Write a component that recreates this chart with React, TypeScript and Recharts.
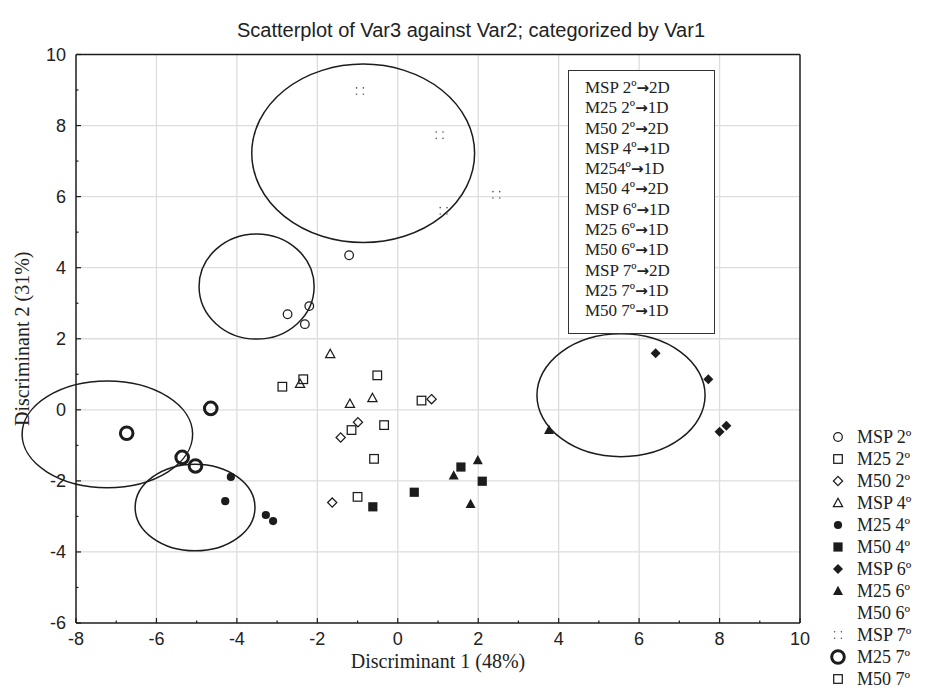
import React from 'react';
import * as Recharts from 'recharts';
import { ScatterChart, Scatter, XAxis, YAxis, ReferenceLine, Legend } from 'recharts';

// ---------- data ----------
const X_DOMAIN: [number, number] = [-8, 10];
const Y_DOMAIN: [number, number] = [-6, 10];
const xTicks = [-8, -7, -6, -5, -4, -3, -2, -1, 0, 1, 2, 3, 4, 5, 6, 7, 8, 9, 10];
const yTicks = [-6, -5, -4, -3, -2, -1, 0, 1, 2, 3, 4, 5, 6, 7, 8, 9, 10];
const gridX = [-6, -4, -2, 0, 2, 4, 6, 8];
const gridY = [-4, -2, 0, 2, 4, 6, 8];

const msp2 = [
  { x: -1.21, y: 4.35 },
  { x: -2.74, y: 2.69 },
  { x: -2.2, y: 2.92 },
  { x: -2.31, y: 2.41 },
];
const m25_2 = [
  { x: -2.87, y: 0.65 },
  { x: -2.35, y: 0.86 },
  { x: -0.51, y: 0.97 },
  { x: 0.59, y: 0.26 },
];
const m50_2 = [
  { x: 0.84, y: 0.3 },
  { x: -0.99, y: -0.35 },
  { x: -1.42, y: -0.78 },
  { x: -1.63, y: -2.61 },
];
const msp4 = [
  { x: -1.68, y: 1.57 },
  { x: -2.43, y: 0.73 },
  { x: -1.19, y: 0.17 },
  { x: -0.63, y: 0.33 },
];
const m25_4 = [
  { x: -4.15, y: -1.89 },
  { x: -4.29, y: -2.57 },
  { x: -3.28, y: -2.96 },
  { x: -3.1, y: -3.13 },
];
const m50_4 = [
  { x: -0.62, y: -2.73 },
  { x: 0.41, y: -2.32 },
  { x: 1.57, y: -1.61 },
  { x: 2.1, y: -2.01 },
];
const msp6 = [
  { x: 6.41, y: 1.59 },
  { x: 7.72, y: 0.86 },
  { x: 8.17, y: -0.45 },
  { x: 8.0, y: -0.62 },
];
const m25_6 = [
  { x: 1.99, y: -1.42 },
  { x: 1.39, y: -1.85 },
  { x: 1.81, y: -2.65 },
  { x: 3.76, y: -0.57 },
];
const m50_6: { x: number; y: number }[] = [];
const msp7 = [
  { x: -0.94, y: 8.97 },
  { x: 1.04, y: 7.73 },
  { x: 2.45, y: 6.05 },
  { x: 1.14, y: 5.6 },
];
const m25_7 = [
  { x: -6.74, y: -0.66 },
  { x: -4.65, y: 0.04 },
  { x: -5.36, y: -1.34 },
  { x: -5.03, y: -1.58 },
];
const m50_7 = [
  { x: -1.15, y: -0.57 },
  { x: -0.34, y: -0.43 },
  { x: -0.59, y: -1.38 },
  { x: -1.0, y: -2.45 },
];

// confidence ellipses (centre and semi-axes in data units)
const ellipses = [
  { x: -3.51, y: 3.47, rx: 1.43, ry: 1.48 },
  { x: -0.86, y: 7.22, rx: 2.77, ry: 2.51 },
  { x: 5.55, y: 0.41, rx: 2.09, ry: 1.73 },
  { x: -7.22, y: -0.69, rx: 2.12, ry: 1.5 },
  { x: -5.04, y: -2.75, rx: 1.49, ry: 1.22 },
];

const boxLeft = ['MSP 2º', 'M25 2º', 'M50 2º', 'MSP 4º', 'M254º', 'M50 4º', 'MSP 6º', 'M25 6º', 'M50 6º', 'MSP 7º', 'M25 7º', 'M50 7º'];
const boxRight = ['2D', '1D', '2D', '1D', '1D', '2D', '1D', '1D', '1D', '2D', '1D', '1D'];

type Kind =
  | 'circleOpen'
  | 'squareOpen'
  | 'diamondOpen'
  | 'triangleOpen'
  | 'circleFilled'
  | 'squareFilled'
  | 'diamondFilled'
  | 'triangleFilled'
  | 'none'
  | 'dots'
  | 'bigCircle';

const series: { name: string; data: { x: number; y: number }[]; kind: Kind }[] = [
  { name: 'MSP 2º', data: msp2, kind: 'circleOpen' },
  { name: 'M25 2º', data: m25_2, kind: 'squareOpen' },
  { name: 'M50 2º', data: m50_2, kind: 'diamondOpen' },
  { name: 'MSP 4º', data: msp4, kind: 'triangleOpen' },
  { name: 'M25 4º', data: m25_4, kind: 'circleFilled' },
  { name: 'M50 4º', data: m50_4, kind: 'squareFilled' },
  { name: 'MSP 6º', data: msp6, kind: 'diamondFilled' },
  { name: 'M25 6º', data: m25_6, kind: 'triangleFilled' },
  { name: 'M50 6º', data: m50_6, kind: 'none' },
  { name: 'MSP 7º', data: msp7, kind: 'dots' },
  { name: 'M25 7º', data: m25_7, kind: 'bigCircle' },
  { name: 'M50 7º', data: m50_7, kind: 'squareOpen' },
];

// ---------- styling ----------
const INK = '#1c1c1c';
const SANS = '"Liberation Sans", Arial, sans-serif';
const SERIF = '"Liberation Serif", "Times New Roman", serif';

function marker(kind: Kind, cx: number, cy: number) {
  const sw = 1.25;
  switch (kind) {
    case 'circleOpen':
      return <circle cx={cx} cy={cy} r={4.3} fill="none" stroke={INK} strokeWidth={sw} />;
    case 'squareOpen':
      return <rect x={cx - 4.3} y={cy - 4.3} width={8.6} height={8.6} fill="none" stroke={INK} strokeWidth={sw} />;
    case 'diamondOpen':
      return (
        <polygon
          points={`${cx},${cy - 4.6} ${cx + 4.6},${cy} ${cx},${cy + 4.6} ${cx - 4.6},${cy}`}
          fill="none"
          stroke={INK}
          strokeWidth={sw}
        />
      );
    case 'triangleOpen':
      return (
        <polygon
          points={`${cx},${cy - 4.8} ${cx + 4.6},${cy + 3.6} ${cx - 4.6},${cy + 3.6}`}
          fill="none"
          stroke={INK}
          strokeWidth={sw}
        />
      );
    case 'circleFilled':
      return <circle cx={cx} cy={cy} r={4.1} fill={INK} />;
    case 'squareFilled':
      return <rect x={cx - 4.6} y={cy - 4.6} width={9.2} height={9.2} fill={INK} />;
    case 'diamondFilled':
      return <polygon points={`${cx},${cy - 5} ${cx + 5},${cy} ${cx},${cy + 5} ${cx - 5},${cy}`} fill={INK} />;
    case 'triangleFilled':
      return <polygon points={`${cx},${cy - 5.2} ${cx + 5},${cy + 4} ${cx - 5},${cy + 4}`} fill={INK} />;
    case 'dots':
      return (
        <g fill="#555">
          <circle cx={cx - 3.4} cy={cy - 3.2} r={0.8} />
          <circle cx={cx + 3.4} cy={cy - 3.2} r={0.8} />
          <circle cx={cx - 3.4} cy={cy + 3.2} r={0.8} />
          <circle cx={cx + 3.4} cy={cy + 3.2} r={0.8} />
        </g>
      );
    case 'bigCircle':
      return <circle cx={cx} cy={cy} r={6.3} fill="none" stroke={INK} strokeWidth={3} />;
    default:
      return <g />;
  }
}

const useArea: () => any = (Recharts as any).usePlotArea || (() => null);

function EllipseShape(props: any) {
  const area = useArea();
  const w = area && area.width ? area.width : 724;
  const h = area && area.height ? area.height : 568.5;
  const kx = w / (X_DOMAIN[1] - X_DOMAIN[0]);
  const ky = h / (Y_DOMAIN[1] - Y_DOMAIN[0]);
  const p = props.payload || {};
  return (
    <ellipse cx={props.cx} cy={props.cy} rx={p.rx * kx} ry={p.ry * ky} fill="none" stroke={INK} strokeWidth={1.5} />
  );
}

const MAJOR = 5;
const MINOR = 2.5;

function BottomTick(props: any) {
  const { x, y, payload } = props;
  const v = payload.value;
  const major = v % 2 === 0;
  return (
    <g>
      <line x1={x} x2={x} y1={y} y2={y - (major ? MAJOR : MINOR)} stroke={INK} strokeWidth={1.2} />
      {major && (
        <text x={x} y={y + 22} textAnchor="middle" fontSize={18} fontFamily={SANS} fill="#222">
          {String(v)}
        </text>
      )}
    </g>
  );
}
function TopTick(props: any) {
  const { x, y, payload } = props;
  const major = payload.value % 2 === 0;
  return <line x1={x} x2={x} y1={y} y2={y + (major ? MAJOR : MINOR)} stroke={INK} strokeWidth={1.2} />;
}
function LeftTick(props: any) {
  const { x, y, payload } = props;
  const v = payload.value;
  const major = v % 2 === 0;
  return (
    <g>
      <line x1={x} x2={x + (major ? MAJOR : MINOR)} y1={y} y2={y} stroke={INK} strokeWidth={1.2} />
      {major && (
        <text x={x - 10} y={y} dy="0.36em" textAnchor="end" fontSize={18} fontFamily={SANS} fill="#222">
          {String(v)}
        </text>
      )}
    </g>
  );
}
function RightTick(props: any) {
  const { x, y, payload } = props;
  const major = payload.value % 2 === 0;
  return <line x1={x} x2={x - (major ? MAJOR : MINOR)} y1={y} y2={y} stroke={INK} strokeWidth={1.2} />;
}

function LegendContent(props: any) {
  const payload: any[] = props.payload || [];
  const items = series.filter((s) => payload.some((p) => p.value === s.name));
  return (
    <div style={{ fontFamily: SERIF, fontSize: 18, color: '#222' }}>
      {items.map((s) => (
        <div key={s.name} style={{ height: 22, display: 'flex', alignItems: 'center', whiteSpace: 'nowrap' }}>
          <svg width={18} height={18} style={{ flex: 'none' }}>
            {marker(s.kind, 9, 9)}
          </svg>
          <span style={{ marginLeft: 10 }}>{s.name}</span>
        </div>
      ))}
    </div>
  );
}

export default function App() {
  return (
    <div
      style={{
        position: 'absolute',
        left: 0,
        top: 0,
        width: 925,
        height: 691,
        background: '#fff',
        overflow: 'hidden',
      }}
    >
      <div
        style={{
          position: 'absolute',
          left: 0,
          width: 925,
          top: 19,
          textAlign: 'center',
          fontFamily: SANS,
          fontSize: 20,
          color: '#222',
          paddingLeft: 17,
          boxSizing: 'border-box',
        }}
      >
        Scatterplot of Var3 against Var2; categorized by Var1
      </div>
      <ScatterChart width={925} height={691} margin={{ top: 53.5, right: 124, bottom: 38, left: 36 }}>
        <XAxis
          xAxisId="b"
          type="number"
          dataKey="x"
          domain={X_DOMAIN}
          ticks={xTicks}
          interval={0}
          height={30}
          tickSize={0}
          tickMargin={0}
          tickLine={false}
          axisLine={{ stroke: INK, strokeWidth: 1.5 }}
          tick={<BottomTick />}
          label={{
            value: 'Discriminant 1 (48%)',
            position: 'bottom',
            offset: 1,
            style: { fontFamily: SERIF, fontSize: 20, fill: '#222' },
          }}
        />
        <XAxis
          xAxisId="t"
          orientation="top"
          type="number"
          dataKey="x"
          domain={X_DOMAIN}
          ticks={xTicks}
          interval={0}
          height={1}
          tickSize={0}
          tickMargin={0}
          tickLine={false}
          axisLine={{ stroke: INK, strokeWidth: 1.5 }}
          tick={<TopTick />}
        />
        <YAxis
          yAxisId="l"
          type="number"
          dataKey="y"
          domain={Y_DOMAIN}
          ticks={yTicks}
          interval={0}
          width={40}
          tickSize={0}
          tickMargin={0}
          tickLine={false}
          axisLine={{ stroke: INK, strokeWidth: 1.5 }}
          tick={<LeftTick />}
          label={{
            value: 'Discriminant 2 (31%)',
            angle: -90,
            position: 'insideLeft',
            offset: -14,
            style: { fontFamily: SERIF, fontSize: 20, fill: '#222', textAnchor: 'middle' },
          }}
        />
        <YAxis
          yAxisId="r"
          orientation="right"
          type="number"
          dataKey="y"
          domain={Y_DOMAIN}
          ticks={yTicks}
          interval={0}
          width={1}
          tickSize={0}
          tickMargin={0}
          tickLine={false}
          axisLine={{ stroke: INK, strokeWidth: 1.5 }}
          tick={<RightTick />}
        />
        {gridX.map((v) => (
          <ReferenceLine key={`gx${v}`} xAxisId="b" yAxisId="l" x={v} stroke="#dddddd" strokeWidth={1.3} />
        ))}
        {gridY.map((v) => (
          <ReferenceLine key={`gy${v}`} xAxisId="b" yAxisId="l" y={v} stroke="#dddddd" strokeWidth={1.3} />
        ))}
        <Scatter
          name="ellipses"
          xAxisId="b"
          yAxisId="l"
          data={ellipses}
          legendType="none"
          isAnimationActive={false}
          shape={(p: any) => <EllipseShape {...p} />}
        />
        {series.map((s) => (
          <Scatter
            key={s.name}
            name={s.name}
            xAxisId="b"
            yAxisId="l"
            data={s.data}
            fill={INK}
            isAnimationActive={false}
            shape={(p: any) => marker(s.kind, p.cx, p.cy)}
          />
        ))}
        <Legend
          layout="vertical"
          align="center"
          verticalAlign="middle"
          content={<LegendContent />}
          wrapperStyle={{ left: 829, top: 426, width: 96 }}
        />
      </ScatterChart>
      <div
        style={{
          position: 'absolute',
          left: 568,
          top: 70,
          width: 147,
          height: 264,
          border: '1px solid #333',
          fontFamily: SERIF,
          fontSize: 17,
          lineHeight: '20.3px',
          color: '#222',
          paddingTop: 7,
          paddingLeft: 16,
          boxSizing: 'border-box',
          background: '#fff',
          whiteSpace: 'nowrap',
        }}
      >
        {boxLeft.map((t, i) => (
          <div key={t}>
            {t}
            <span style={{ fontFamily: '"DejaVu Sans", sans-serif', fontWeight: 'bold', fontSize: 15 }}>→</span>
            {boxRight[i]}
          </div>
        ))}
      </div>
    </div>
  );
}
